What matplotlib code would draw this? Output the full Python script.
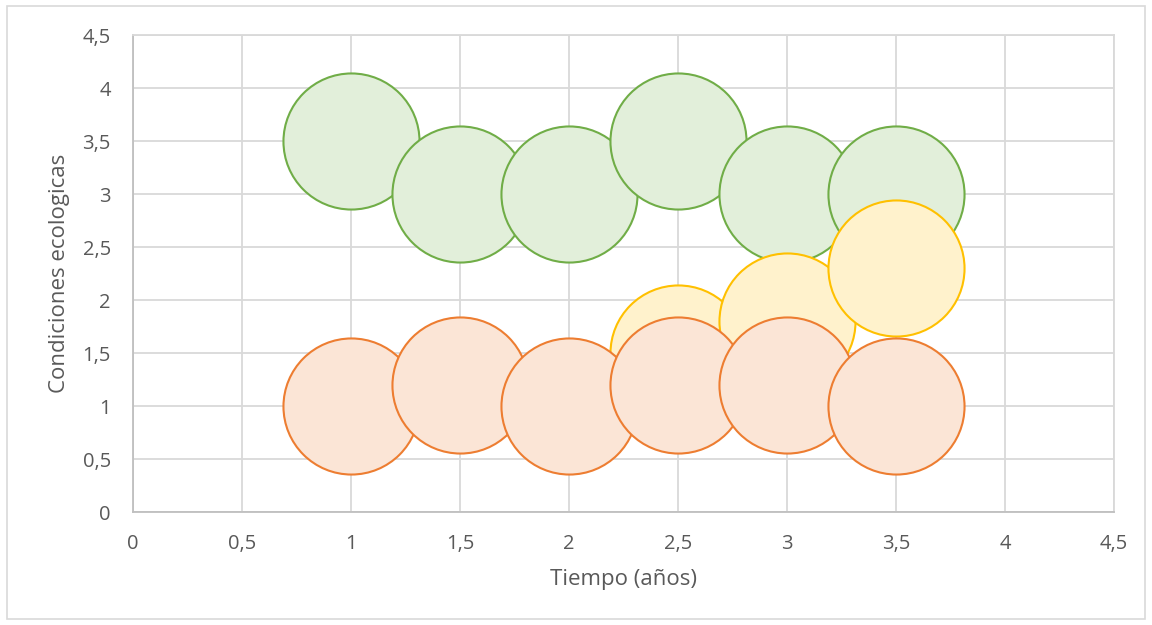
import matplotlib
matplotlib.use("Agg")
import matplotlib.pyplot as plt
from matplotlib.ticker import MultipleLocator, FuncFormatter
from matplotlib.patches import Rectangle

plt.rcParams['font.family'] = ['Open Sans', 'DejaVu Sans']

# Bubble series: x = time (years), y = ecological condition, size = bubble value
green_x = [1, 1.5, 2, 2.5, 3, 3.5]
green_y = [3.5, 3, 3, 3.5, 3, 3]
green_size = [1, 1, 1, 1, 1, 1]

yellow_x = [2.5, 3, 3.5]
yellow_y = [1.5, 1.8, 2.3]
yellow_size = [1, 1, 1]

orange_x = [1, 1.5, 2, 2.5, 3, 3.5]
orange_y = [1, 1.2, 1, 1.2, 1.2, 1]
orange_size = [1, 1, 1, 1, 1, 1]

x_label = "Tiempo (años)"
y_label = "Condiciones ecologicas"

series = [
    (green_x, green_y, green_size, "#E2EFDA", "#70AD47"),
    (yellow_x, yellow_y, yellow_size, "#FFF2CC", "#FFC000"),
    (orange_x, orange_y, orange_size, "#FBE5D6", "#ED7D31"),
]

fig = plt.figure(figsize=(11.52, 6.25), dpi=100)
fig.patch.set_facecolor("white")
ax = fig.add_axes([133 / 1152, 113 / 625, (1114 - 133) / 1152, (512 - 35) / 625])

# outer chart border
fig.patches.append(Rectangle((7 / 1152, 6 / 625), 1138 / 1152, 613 / 625,
                             transform=fig.transFigure, fill=False,
                             edgecolor="#D9D9D9", linewidth=1.2))

bubble_area = 9600  # points^2 for a bubble of value 1
max_size = max(max(green_size), max(yellow_size), max(orange_size))
for xs, ys, sz, face, edge in series:
    for x, y, s in zip(xs, ys, sz):
        ax.scatter([x], [y], s=bubble_area * s / max_size, facecolor=face,
                   edgecolor=edge, linewidth=1.5, zorder=3)

ax.set_xlim(0, 4.5)
ax.set_ylim(0, 4.5)
ax.xaxis.set_major_locator(MultipleLocator(0.5))
ax.yaxis.set_major_locator(MultipleLocator(0.5))
fmt = FuncFormatter(lambda v, p: (f"{v:g}").replace(".", ","))
ax.xaxis.set_major_formatter(fmt)
ax.yaxis.set_major_formatter(fmt)

ax.grid(True, color="#D9D9D9", linewidth=1.3, zorder=0)
ax.set_axisbelow(True)
for side in ("top", "right"):
    ax.spines[side].set_color("#D9D9D9")
    ax.spines[side].set_linewidth(1.3)
for side in ("left", "bottom"):
    ax.spines[side].set_color("#BFBFBF")
    ax.spines[side].set_linewidth(1.3)

ax.tick_params(axis="both", length=0, labelsize=14.5, labelcolor="#595959")
ax.tick_params(axis="x", pad=16)
ax.tick_params(axis="y", pad=16)

ax.set_xlabel(x_label, fontsize=16, color="#595959", labelpad=11)
ax.set_ylabel(y_label, fontsize=16, color="#595959", labelpad=9)

fig.savefig("out.png", dpi=100)
